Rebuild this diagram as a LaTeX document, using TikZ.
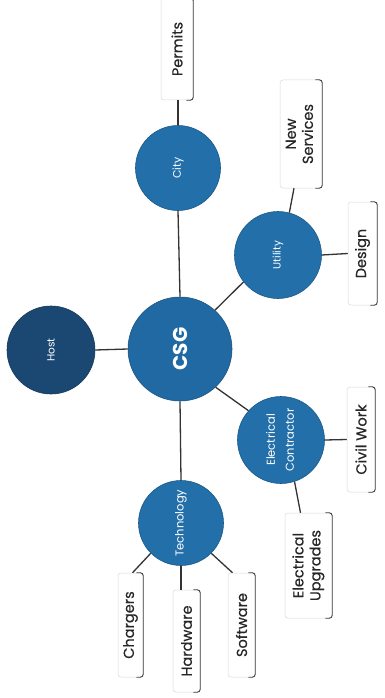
\documentclass[tikz,border=0pt]{standalone}
\usepackage{fontspec}
\setmainfont{Poppins}
\newfontfamily\lblfont{Poppins}[FakeBold=0.5]
\usepackage{graphicx}
\definecolor{cblue}{HTML}{236FA9}
\definecolor{cdark}{HTML}{1B4872}
\definecolor{ccsg}{HTML}{2069A3}
\definecolor{cline}{HTML}{333333}
\tikzset{
  hub/.style={circle, fill=#1, draw=#1!80!black, line width=0.6pt, inner sep=0pt, text=white, align=center},
  box/.style={rectangle, rounded corners=3pt, fill=white, draw=gray!30, line width=0.5pt, inner sep=0pt, align=center, font=\lblfont\fontsize{14.5}{17}\selectfont, text=black!85},
  link/.style={draw=cline, line width=1.3pt},
  rim/.style={draw=black!75, line width=0.9pt, rounded corners=3pt}
}
\begin{document}
\begin{tikzpicture}[x=1pt, y=-1pt]
\useasboundingbox (0,0) rectangle (384,698);
\fill[white] (0,0) rectangle (384,698);

% hubs
\node[hub=ccsg, minimum size=104pt] (csg) at (180,349) {\rotatebox{90}{\fontsize{20}{22}\selectfont\bfseries CSG}};
\node[hub=cblue, minimum size=85pt] (city) at (178,168) {\rotatebox{90}{\fontsize{11}{13}\selectfont City}};
\node[hub=cdark, minimum size=88pt] (host) at (51,350) {\rotatebox{90}{\fontsize{10.5}{13}\selectfont Host}};
\node[hub=cblue, minimum size=87pt] (utility) at (278,255) {\rotatebox{90}{\fontsize{10.5}{13}\selectfont Utility}};
\node[hub=cblue, minimum size=87pt] (elec) at (281,440) {\rotatebox{90}{\fontsize{11.5}{17}\selectfont\begin{tabular}{@{}c@{}}Electrical\\[2pt]Contractor\end{tabular}}};
\node[hub=cblue, minimum size=85pt] (tech) at (181,523) {\rotatebox{90}{\fontsize{11.5}{13}\selectfont Technology}};

% boxes
\node[box, minimum width=32pt, minimum height=102pt] (permits) at (177,49) {\rotatebox{90}{Permits}};
\node[box, minimum width=42pt, minimum height=108pt] (newserv) at (301,134) {\rotatebox{90}{\begin{tabular}{@{}c@{}}New\\Services\end{tabular}}};
\node[box, minimum width=29pt, minimum height=103pt] (design) at (362.5,253.5) {\rotatebox{90}{Design}};
\node[box, minimum width=28pt, minimum height=105pt] (civil) at (361,439.5) {\rotatebox{90}{Civil Work}};
\node[box, minimum width=47pt, minimum height=105pt] (upgr) at (308.5,565.5) {\rotatebox{90}{\begin{tabular}{@{}c@{}}Electrical\\Upgrades\end{tabular}}};
\node[box, minimum width=25pt, minimum height=104pt] (charg) at (130.5,625) {\rotatebox{90}{Chargers}};
\node[box, minimum width=27pt, minimum height=102pt] (hardw) at (186.5,641) {\rotatebox{90}{Hardware}};
\node[box, minimum width=27pt, minimum height=104pt] (softw) at (241.5,625) {\rotatebox{90}{Software}};

\foreach \b in {permits,newserv,design,civil,upgr,charg,hardw,softw}
  \draw[rim] ([xshift=-7pt]\b.north east) -- (\b.north east) -- (\b.south east) -- ([xshift=-7pt]\b.south east);

% links
\draw[link] (csg.north) -- (city.south);
\draw[link] (csg.west) -- (host.east);
\draw[link] (csg.48) -- (utility.218);
\draw[link] (csg.-47) -- (elec.138);
\draw[link] (csg.south) -- (tech.north);
\draw[link] (city.north) -- (city.north |- permits.south);
\draw[link] (utility.75) -- ([xshift=-7pt]newserv.south);
\draw[link] (utility.east) -- (design.west);
\draw[link] (elec.east) -- (civil.west);
\draw[link] (elec.-72) -- ([xshift=-8pt]upgr.north);
\draw[link] (tech.-135) -- ([xshift=2pt]charg.north);
\draw[link] (tech.south) -- (tech.south |- hardw.north);
\draw[link] (tech.-45) -- ([xshift=-9pt]softw.north);
\end{tikzpicture}
\end{document}
